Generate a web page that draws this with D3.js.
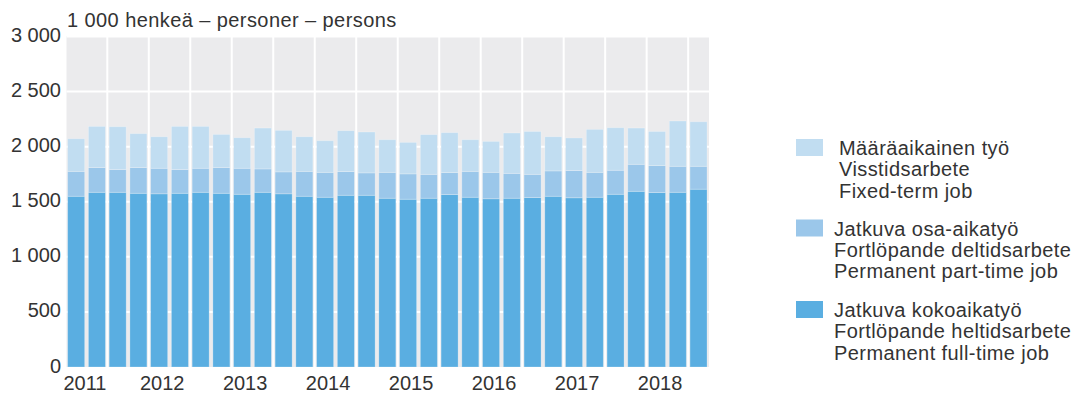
<!DOCTYPE html>
<html>
<head>
<meta charset="utf-8">
<script src="https://cdn.jsdelivr.net/npm/d3@7"></script>
<style>
  body { margin: 0; background: #fff; }
  svg text { font-family: "Liberation Sans", Arial, sans-serif; font-size: 20px; fill: #333; }
  svg text.wide { letter-spacing: 0.42px; }
</style>
</head>
<body>
<svg id="chart" width="1075" height="393"></svg>
<script>
// quarters 2011Q1 .. 2018Q3
let years = [2011, 2012, 2013, 2014, 2015, 2016, 2017, 2018];
let quarters = [];
years.forEach(y => [1, 2, 3, 4].forEach(q => { if (!(y == 2018 && q == 4)) quarters.push(y + "Q" + q) }));

// 1 000 persons
let fullTime = [1550, 1586, 1586, 1577, 1572, 1577, 1586, 1577, 1568, 1586, 1572, 1550, 1541, 1559, 1559, 1532,
                1523, 1532, 1566, 1541, 1527, 1532, 1538, 1550, 1536, 1541, 1568, 1595, 1584, 1586, 1614];
let partTime = [226, 224, 206, 233, 232, 215, 218, 233, 236, 212, 199, 226, 226, 215, 203, 235,
                230, 217, 199, 235, 240, 226, 211, 230, 247, 226, 218, 245, 244, 236, 208];
let fixedTerm = [296, 374, 389, 308, 286, 392, 380, 301, 277, 371, 377, 314, 287, 371, 371, 296,
                 286, 360, 362, 287, 281, 366, 389, 310, 296, 390, 386, 329, 310, 411, 404];

let yTicks = [0, 500, 1000, 1500, 2000, 2500, 3000];

let seriesKeys = ["full", "part", "fixed"];
let colors = { full: "#5aaee1", part: "#9bc7ea", fixed: "#c1ddf1" };

let legendItems = [
    { key: "fixed", lines: ["Määräaikainen työ", "Visstidsarbete", "Fixed-term job"] },
    { key: "part", lines: ["Jatkuva osa-aikatyö", "Fortlöpande deltidsarbete", "Permanent part-time job"] },
    { key: "full", lines: ["Jatkuva kokoaikatyö", "Fortlöpande heltidsarbete", "Permanent full-time job"] }
];

let table = quarters.map((q, i) => ({ q: q, full: fullTime[i], part: partTime[i], fixed: fixedTerm[i] }));

let svg = d3.select("#chart");

let plot = { left: 66.5, right: 709, top: 36, bottom: 367 };

let x = d3.scaleBand()
    .domain(quarters)
    .range([65.8, 708.9])
    .paddingInner(0.18)
    .paddingOuter(0.09);

let y = d3.scaleLinear()
    .domain([0, 3000])
    .range([plot.bottom, plot.top + 0.5]);

let fmt = d => d3.format(",")(d).replace(/,/g, " ");

// background
svg.append("rect")
    .attr("x", plot.left)
    .attr("y", plot.top)
    .attr("width", plot.right - plot.left)
    .attr("height", plot.bottom - plot.top)
    .attr("fill", "#ebebed");

// horizontal grid
svg.append("g")
    .selectAll("line")
    .data(yTicks.filter(d => d > 0))
    .enter()
    .append("line")
    .attr("x1", plot.left)
    .attr("x2", plot.right)
    .attr("y1", d => y(d))
    .attr("y2", d => y(d))
    .attr("stroke", "#fff")
    .attr("stroke-width", 2);

// vertical grid, every second gap
let step = x.step();
let vLines = quarters.filter((q, i) => i % 2 == 1 && i < quarters.length - 1);
svg.append("g")
    .selectAll("line")
    .data(vLines)
    .enter()
    .append("line")
    .attr("x1", d => x(d) + x.bandwidth() + (step - x.bandwidth()) / 2)
    .attr("x2", d => x(d) + x.bandwidth() + (step - x.bandwidth()) / 2)
    .attr("y1", plot.top)
    .attr("y2", plot.bottom)
    .attr("stroke", "#fff")
    .attr("stroke-width", 2);

// stacked bars
let stack = d3.stack().keys(seriesKeys)(table);

svg.append("g")
    .selectAll("g")
    .data(stack)
    .enter()
    .append("g")
    .attr("fill", d => colors[d.key])
    .selectAll("rect")
    .data(d => d)
    .enter()
    .append("rect")
    .attr("x", d => x(d.data.q))
    .attr("y", d => y(d[1]))
    .attr("width", x.bandwidth())
    .attr("height", d => y(d[0]) - y(d[1]))
    .attr("stroke", "#fff")
    .attr("stroke-opacity", 0.3)
    .attr("stroke-width", 0.8);

// y axis labels
svg.append("g")
    .selectAll("text")
    .data(yTicks)
    .enter()
    .append("text")
    .attr("x", 61)
    .attr("y", d => y(d) + 5.5)
    .attr("text-anchor", "end")
    .text(fmt);

// x axis year labels
svg.append("g")
    .selectAll("text")
    .data(years)
    .enter()
    .append("text")
    .attr("x", d => Math.max(x(d + "Q1") + x.bandwidth() / 2 + 3, 85))
    .attr("y", 390)
    .attr("text-anchor", "middle")
    .text(d => d);

// unit title
svg.append("text")
    .attr("class", "wide")
    .attr("x", 67)
    .attr("y", 27)
    .text("1 000 henkeä – personer – persons");

// legend
let legendTops = [139, 219.5, 301];
let legendTextX = [839, 834, 834];
let legend = svg.append("g")
    .selectAll("g")
    .data(legendItems)
    .enter()
    .append("g");

legend.append("rect")
    .attr("x", 796)
    .attr("y", (d, i) => legendTops[i])
    .attr("width", 27)
    .attr("height", 17)
    .attr("fill", d => colors[d.key]);

legend.each(function(d, i) {
    d3.select(this)
        .selectAll("text")
        .data(d.lines)
        .enter()
        .append("text")
        .attr("class", "wide")
        .attr("x", legendTextX[i])
        .attr("y", (t, j) => legendTops[i] + 16 + j * 21.4)
        .text(t => t);
});
</script>
</body>
</html>
